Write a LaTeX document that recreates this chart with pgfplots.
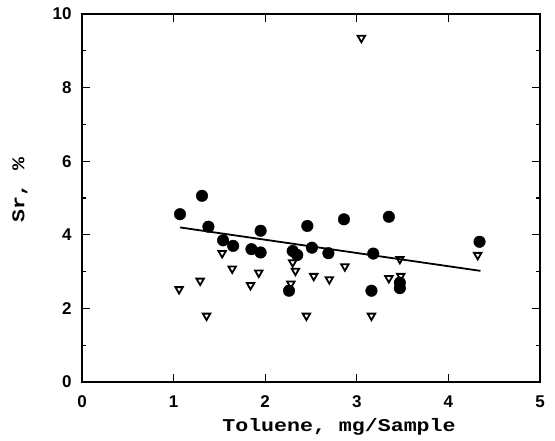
\documentclass[border=0pt]{standalone}
\usepackage{pgfplots}
\pgfplotsset{compat=1.18}
\usepackage{fontspec}
\setmainfont{Liberation Sans}
\newfontfamily\labfont[FakeStretch=1.2]{Liberation Mono}
\begin{document}
\begin{tikzpicture}
\begin{axis}[
  at={(0,0)}, anchor=south west,
  scale only axis, width=458pt, height=368pt,
  xmin=0, xmax=5, ymin=0, ymax=10,
  xtick={0,1,2,3,4,5}, ytick={0,2,4,6,8,10},
  minor y tick num=1,
  tick align=inside, tick pos=both,
  major tick length=8pt, minor tick length=4pt,
  axis line style={line width=2pt},
  every tick/.style={line width=1.2pt, black},
  tick label style={font=\fontsize{17}{17}\selectfont\bfseries},
  /pgf/number format/assume math mode=true,
  xticklabel style={yshift=-10pt},
  yticklabel style={xshift=-7pt},
  xlabel={\labfont\fontsize{18}{18}\selectfont\bfseries Toluene, mg/Sample},
  ylabel={\labfont\fontsize{18}{18}\selectfont\bfseries Sr, \%},
  xlabel style={yshift=-4pt, xshift=28pt},
  ylabel style={yshift=18pt, xshift=8pt},
]
\addplot[only marks, mark=*, mark size=5.8pt, mark options={fill=black, draw=black}] coordinates {
(1.07,4.56) (1.31,5.06) (1.38,4.22) (1.54,3.85) (1.65,3.70) (1.85,3.61)
(1.95,4.11) (1.95,3.52) (2.30,3.56) (2.35,3.45) (2.26,2.48) (2.46,4.24)
(2.51,3.65) (2.69,3.50) (2.86,4.42) (3.18,3.49) (3.16,2.48) (3.35,4.49)
(3.47,2.55) (3.47,2.70) (4.34,3.81)
};
\addplot[only marks, mark=triangle, mark size=4.3pt, mark options={rotate=180, draw=black, fill=white, line width=1.8pt}] coordinates {
(1.06,2.52) (1.29,2.75) (1.36,1.80) (1.53,3.50) (1.64,3.08) (1.84,2.63)
(1.93,2.97) (2.30,3.25) (2.28,2.67) (2.33,3.02) (2.45,1.80) (2.53,2.88)
(2.70,2.79) (2.87,3.14) (3.05,9.35) (3.16,1.80) (3.35,2.82) (3.47,3.34)
(3.48,2.88) (4.32,3.45)
};
\addplot[black, line width=1.8pt] coordinates {(1.07,4.20) (4.35,3.02)};
\end{axis}
\pgfresetboundingbox
\path (-82pt,-59pt) rectangle (473pt,382pt);
\end{tikzpicture}
\end{document}
